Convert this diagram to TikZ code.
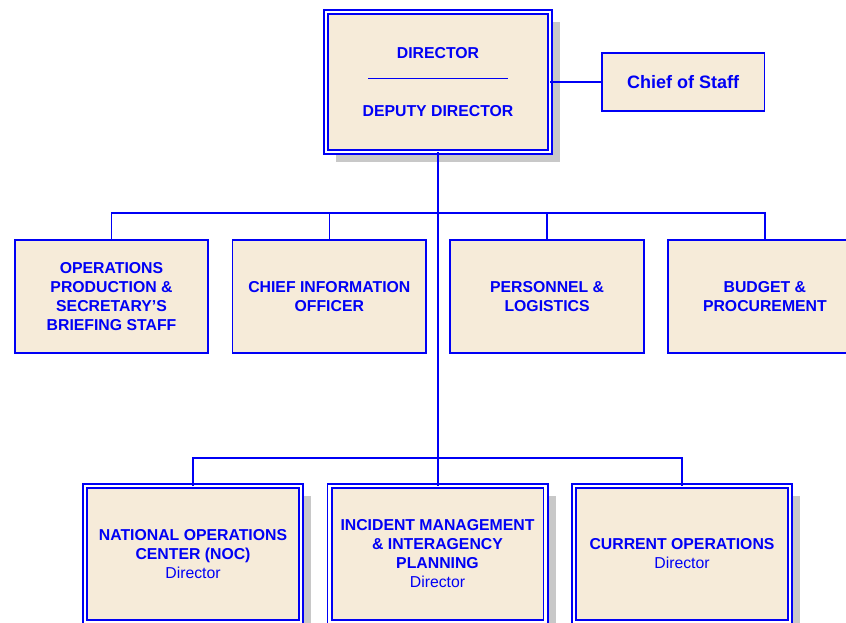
\documentclass[tikz,border=0pt]{standalone}
\usepackage{fontspec}
\setmainfont{Liberation Sans}
\usepackage{xcolor}
\usepackage{tikz}
\usetikzlibrary{positioning,shadows}

\definecolor{ocblue}{RGB}{0,0,245}
\definecolor{ocbeige}{RGB}{246,235,217}
\definecolor{ocshadow}{RGB}{200,200,200}

\begin{document}
\begin{tikzpicture}[
  x=1pt, y=-1pt,
  font=\fontsize{15.8}{19}\selectfont\bfseries, text=ocblue,
  unit/.style={draw=ocblue, fill=ocbeige, line width=1.8pt, align=center, minimum width=193.5pt, minimum height=113pt, inner sep=2pt},
  office/.style={unit, double=white, double distance=2.4pt, outer sep=0pt, minimum width=216pt, minimum height=136pt,
    drop shadow={shadow xshift=10pt, shadow yshift=-10pt, fill=ocshadow, opacity=1}},
  link/.style={draw=ocblue, line width=1.6pt}
]
\useasboundingbox (0,0) rectangle (846,623);

% top level
\node[office, minimum width=224pt, minimum height=140pt, font=\fontsize{15.8}{18.6}\selectfont\bfseries] (dir) at (438,82)
  {DIRECTOR\\[1.5pt]{\color{ocblue}\rule{140pt}{0.6pt}}\\[19.5pt]DEPUTY DIRECTOR};
\node[unit, minimum width=162.5pt, minimum height=58.5pt, font=\fontsize{18}{21}\selectfont\bfseries, right=51pt of dir] (chief) {Chief of Staff};

% staff offices
\node[unit] (ops) at (111.5,296.5) {OPERATIONS\\PRODUCTION \&\\SECRETARY’S\\BRIEFING STAFF};
\node[unit, right=22.5pt of ops] (cio) {CHIEF INFORMATION\\OFFICER};
\node[unit, right=22.5pt of cio] (pers) {PERSONNEL \&\\LOGISTICS};
\node[unit, right=22.5pt of pers] (budget) {BUDGET \&\\PROCUREMENT};

% operating offices
\node[office] (noc) at (193,554) {NATIONAL OPERATIONS\\CENTER (NOC)\\\textmd{Director}};
\node[office, right=28.5pt of noc] (incident) {INCIDENT MANAGEMENT\\\& INTERAGENCY\\PLANNING\\\textmd{Director}};
\node[office, right=28.5pt of incident] (curops) {CURRENT OPERATIONS\\\textmd{Director}};

\coordinate (busA) at (0,213);
\coordinate (busB) at (0,458);

\draw[link] (dir.east) -- (chief.west);
\draw[link] (dir.south) -- (dir.south |- incident.north);
\draw[link] (ops.north) |- (budget.north |- busA) -- (budget.north);
\draw[link] (cio.north) -- (cio.north |- busA);
\draw[link] (pers.north) -- (pers.north |- busA);
\draw[link] (noc.north) |- (curops.north |- busB) -- (curops.north);
\end{tikzpicture}
\end{document}
